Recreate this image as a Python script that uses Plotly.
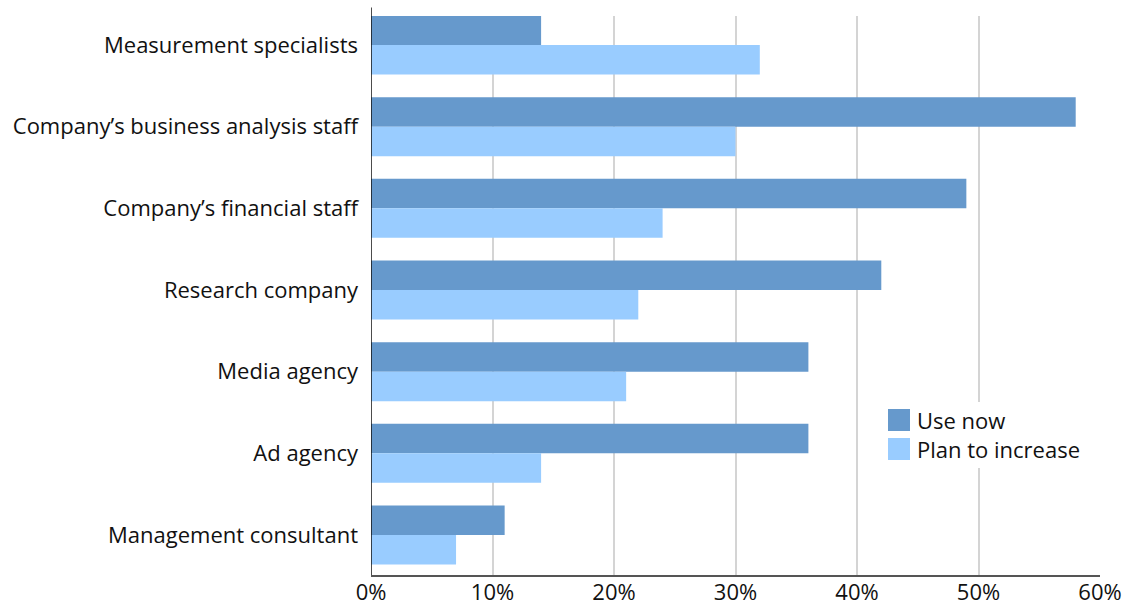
import plotly.graph_objects as go

categories = [
    "Measurement specialists",
    "Company’s business analysis staff",
    "Company’s financial staff",
    "Research company",
    "Media agency",
    "Ad agency",
    "Management consultant",
]
use_now = [14, 58, 49, 42, 36, 36, 11]
plan_to_increase = [32, 30, 24, 22, 21, 14, 7]
x_ticks = [0, 10, 20, 30, 40, 50, 60]
x_tick_labels = ["0%", "10%", "20%", "30%", "40%", "50%", "60%"]

USE_COLOR = "#6699cc"
PLAN_COLOR = "#99ccff"
FONT = "Open Sans"
FS = 22
TEXT = "#111111"

fig = go.Figure()
fig.add_trace(go.Bar(
    y=categories, x=use_now, orientation="h", name="Use now",
    marker=dict(color=USE_COLOR, line=dict(width=0)),
))
fig.add_trace(go.Bar(
    y=categories, x=plan_to_increase, orientation="h", name="Plan to increase",
    marker=dict(color=PLAN_COLOR, line=dict(width=0)),
))

fig.update_layout(
    width=1128, height=605,
    margin=dict(l=371, r=28, t=16, b=30),
    paper_bgcolor="white", plot_bgcolor="white",
    barmode="group", bargap=0.278, bargroupgap=0,
    showlegend=False,
    font=dict(family=FONT, size=FS, color=TEXT),
)
fig.update_xaxes(
    range=[0, 60], tickvals=x_ticks, ticktext=x_tick_labels,
    showgrid=True, gridcolor="#d4d4d4", gridwidth=1.5,
    showline=True, linecolor="#555555", linewidth=1.5,
    ticks="", zeroline=False, automargin=False, ticklabelstandoff=-3,
    tickfont=dict(size=FS, family=FONT, color=TEXT),
)
fig.update_yaxes(
    categoryorder="array", categoryarray=categories,
    range=[6.49, -0.355], showgrid=False, ticks="",
    showline=False, ticklabelstandoff=12, automargin=False,
    tickfont=dict(size=FS, family=FONT, color=TEXT),
)

# left axis line, reaching slightly above the plot area
fig.add_shape(type="line", xref="x", yref="paper", x0=0, x1=0, y0=0, y1=1.015,
              line=dict(color="#111111", width=1.5))

# legend box with large swatches
legend_items = [("Use now", USE_COLOR), ("Plan to increase", PLAN_COLOR)]
fig.add_shape(type="rect", xref="paper", yref="paper",
              x0=(876 - 371) / 729, x1=(1092 - 371) / 729,
              y0=(575 - 468) / 559, y1=(575 - 402) / 559,
              fillcolor="white", line=dict(width=0), layer="above")
for i, (label, color) in enumerate(legend_items):
    cy = 420 + 29 * i
    fig.add_shape(type="rect", xref="paper", yref="paper",
                  x0=(888 - 371) / 729, x1=(910 - 371) / 729,
                  y0=(575 - cy - 11) / 559, y1=(575 - cy + 11) / 559,
                  fillcolor=color, line=dict(width=0), layer="above")
    fig.add_annotation(xref="paper", yref="paper", x=(915 - 371) / 729,
                       y=(575 - cy) / 559, text=label, showarrow=False,
                       xanchor="left", yanchor="middle",
                       font=dict(size=FS, family=FONT, color=TEXT))

fig.write_html("out.html")
